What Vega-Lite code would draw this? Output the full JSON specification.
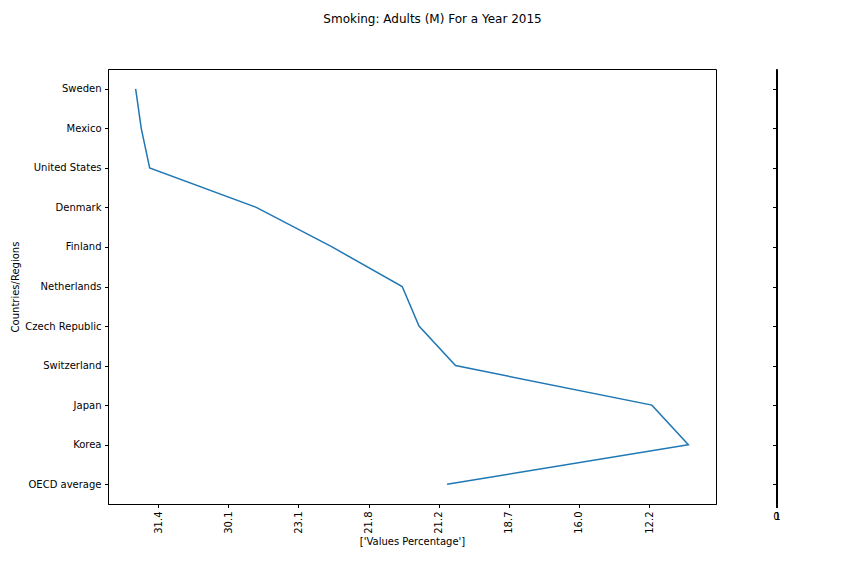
{
  "$schema": "https://vega.github.io/schema/vega-lite/v6.json",
  "padding": {"left": 10, "top": 12, "right": 0, "bottom": 0},
  "background": "white",
  "title": {"text": "Smoking: Adults (M) For a Year 2015", "fontSize": 12, "fontWeight": "normal", "font": "DejaVu Sans", "color": "black", "anchor": "middle", "offset": 43, "dx": 37},
  "data": {"values": [
    {"i": 0, "country": "Sweden", "value": 11.7},
    {"i": 1, "country": "Mexico", "value": 11.9},
    {"i": 2, "country": "United States", "value": 12.2},
    {"i": 3, "country": "Denmark", "value": 16.0},
    {"i": 4, "country": "Finland", "value": 18.7},
    {"i": 5, "country": "Netherlands", "value": 21.2},
    {"i": 6, "country": "Czech Republic", "value": 21.8},
    {"i": 7, "country": "Switzerland", "value": 23.1},
    {"i": 8, "country": "Japan", "value": 30.1},
    {"i": 9, "country": "Korea", "value": 31.4},
    {"i": 10, "country": "OECD average", "value": 22.8}
  ]},
  "spacing": 54,
  "hconcat": [
    {
      "width": 608,
      "height": 435,
      "mark": {"type": "line", "color": "#1f77b4", "strokeWidth": 1.5},
      "encoding": {
        "x": {"field": "value", "type": "quantitative",
          "scale": {"domain": [10.715, 32.385], "nice": false, "zero": false},
          "axis": {"values": [12.5, 15, 17.5, 20, 22.5, 25, 27.5, 30], "labelAngle": -90, "grid": false,
            "labelExpr": "['31.4','30.1','23.1','21.8','21.2','18.7','16.0','12.2'][round((datum.value-12.5)/2.5)]",
            "title": "['Values Percentage']", "labelOverlap": false, "labelFlush": false, "titlePadding": 3}},
        "y": {"field": "country", "type": "nominal", "sort": null,
          "scale": {"type": "point", "padding": 0.5},
          "axis": {"title": "Countries/Regions", "grid": false, "titlePadding": 4}},
        "order": {"field": "i", "type": "quantitative"}
      }
    },
    {
      "width": 1,
      "height": 435,
      "mark": {"type": "point", "opacity": 0},
      "encoding": {
        "x": {"datum": 0, "type": "quantitative",
          "scale": {"domain": [0, 1], "nice": false, "zero": false},
          "axis": {"values": [0, 1], "labelAngle": 0, "grid": false, "title": null, "labelOverlap": false, "labelFlush": false, "format": "d"}},
        "y": {"field": "country", "type": "nominal", "sort": null,
          "scale": {"type": "point", "padding": 0.5},
          "axis": {"labels": false, "title": null, "grid": false}}
      }
    }
  ],
  "config": {
    "font": "DejaVu Sans",
    "view": {"stroke": "black", "strokeWidth": 1},
    "axis": {"labelFont": "DejaVu Sans", "labelFontSize": 10, "labelColor": "black", "tickColor": "black", "domainColor": "black", "tickSize": 3.5, "labelPadding": 3.5, "titleFont": "DejaVu Sans", "titleFontSize": 10, "titleFontWeight": "normal", "titleColor": "black", "domainWidth": 1, "tickWidth": 1}
  }
}
